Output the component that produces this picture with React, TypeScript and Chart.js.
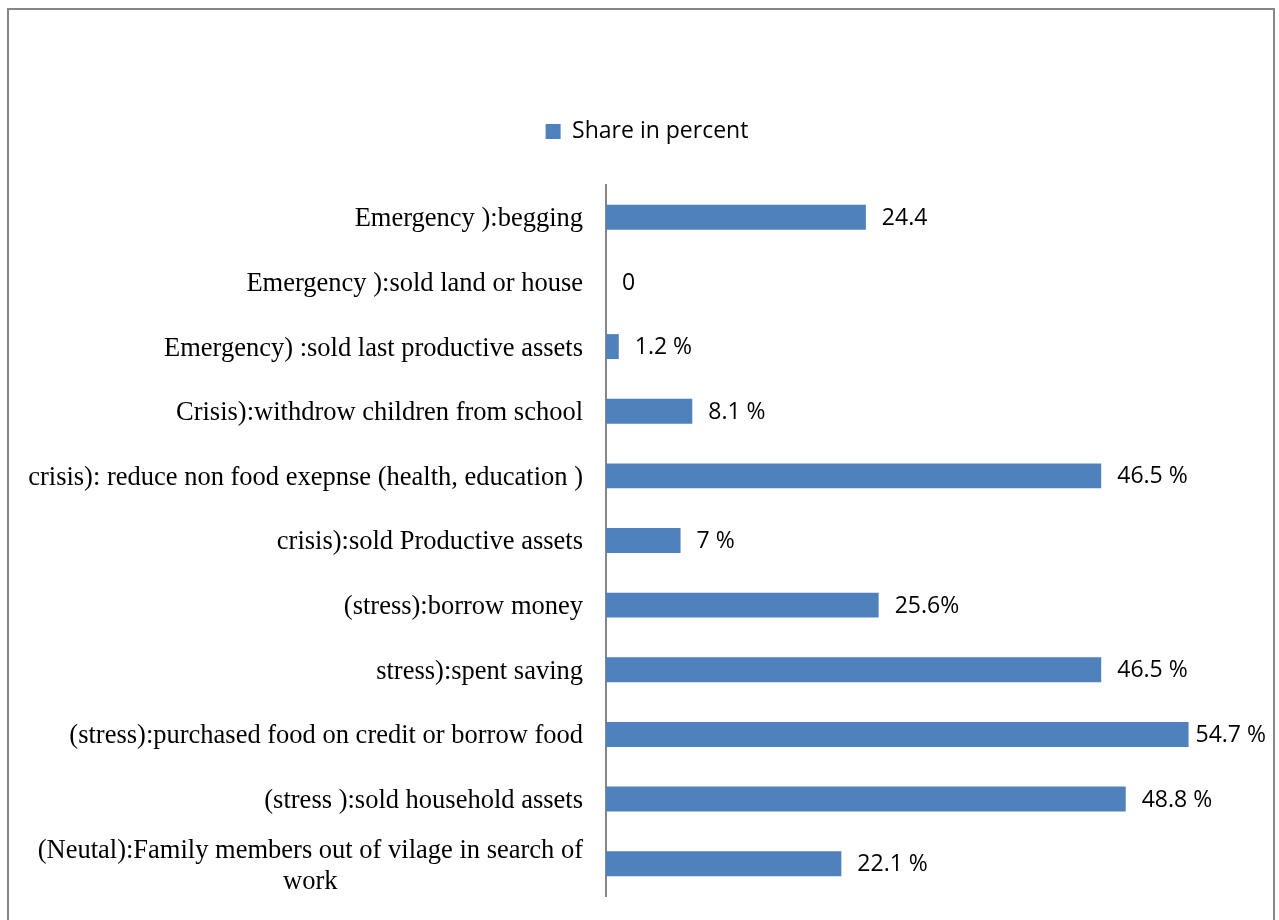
import React, { useEffect, useRef } from 'react';
import { Chart, registerables } from 'chart.js';

Chart.register(...registerables);

const categories: (string | string[])[] = [
  'Emergency ):begging',
  'Emergency ):sold land or house',
  'Emergency) :sold last productive assets',
  'Crisis):withdrow children from school',
  'crisis): reduce non food exepnse (health, education )',
  'crisis):sold Productive assets',
  '(stress):borrow money',
  'stress):spent saving',
  '(stress):purchased food on credit or borrow food',
  '(stress ):sold household assets',
  ['(Neutal):Family members out of vilage in search of', 'work'],
];
const values = [24.4, 0, 1.2, 8.1, 46.5, 7, 25.6, 46.5, 54.7, 48.8, 22.1];
const valueLabels = ['24.4', '0', '1.2 %', '8.1 %', '46.5 %', '7 %', '25.6%', '46.5 %', '54.7 %', '48.8 %', '22.1 %'];
const seriesName = 'Share in percent';

const BAR_COLOR = '#4F81BD';
const AXIS_COLOR = '#868686';
const SERIF = '"Liberation Serif", "Times New Roman", serif';
const SANS = '"Open Sans", Calibri, sans-serif';

const categoryLabelPlugin = {
  id: 'categoryLabels',
  afterDraw(chart: any) {
    const { ctx, scales, chartArea } = chart;
    const y = scales.y;
    ctx.save();
    ctx.font = `26.5px ${SERIF}`;
    ctx.fillStyle = '#000';
    ctx.textBaseline = 'middle';
    const right = chartArea.left - 23;
    categories.forEach((lab, i) => {
      const cy = y.getPixelForValue(i) + 2;
      if (Array.isArray(lab)) {
        const lh = 31;
        const widest = Math.max(...lab.map((l) => ctx.measureText(l).width));
        const cx = right - widest / 2;
        ctx.textAlign = 'center';
        lab.forEach((l, k) => {
          ctx.fillText(l, cx, cy + 1 + (k - (lab.length - 1) / 2) * lh);
        });
      } else {
        ctx.textAlign = 'right';
        ctx.fillText(lab, right, cy);
      }
    });
    ctx.restore();
  },
};

const valueLabelPlugin = {
  id: 'valueLabels',
  afterDatasetsDraw(chart: any) {
    const { ctx } = chart;
    const meta = chart.getDatasetMeta(0);
    ctx.save();
    ctx.font = `23px ${SANS}`;
    ctx.fillStyle = '#000';
    ctx.textBaseline = 'middle';
    ctx.textAlign = 'left';
    const limit = chart.width - 7;
    meta.data.forEach((el: any, i: number) => {
      const t = valueLabels[i];
      const w = ctx.measureText(t).width;
      let x = el.x + 16;
      if (x + w > limit) x = Math.max(el.x + 5, limit - w);
      ctx.fillText(t, x, el.y + 1);
    });
    ctx.restore();
  },
};

const legendSpacePlugin = {
  id: 'legendSpace',
  beforeInit(chart: any) {
    const legend = chart.legend;
    if (legend) {
      const orig = legend.fit;
      legend.fit = function () {
        orig.call(this);
        this.height += 32;
      };
    }
  },
};

export default function App() {
  const ref = useRef<HTMLCanvasElement | null>(null);
  useEffect(() => {
    if (!ref.current) return;
    const chart = new Chart(ref.current, {
      type: 'bar',
      data: {
        labels: categories,
        datasets: [
          {
            label: seriesName,
            data: values,
            backgroundColor: BAR_COLOR,
            borderWidth: 0,
            barPercentage: 0.386,
            categoryPercentage: 1,
          },
        ],
      },
      options: {
        indexAxis: 'y',
        animation: false,
        responsive: false,
        maintainAspectRatio: false,
        layout: { padding: { left: 40, right: 28, top: 100, bottom: 16 } },
        scales: {
          x: {
            min: 0,
            max: 60,
            display: false,
          },
          y: {
            grid: { display: false, drawTicks: false },
            ticks: { display: false },
            border: { display: true, color: AXIS_COLOR, width: 2 },
            afterFit(scale: any) {
              scale.width = 557;
            },
          },
        },
        plugins: {
          legend: {
            position: 'top',
            labels: {
              boxWidth: 15,
              boxHeight: 15,
              padding: 10,
              color: '#000',
              font: { family: SANS, size: 23 },
            },
          },
          tooltip: { enabled: false },
        },
      },
      plugins: [legendSpacePlugin, categoryLabelPlugin, valueLabelPlugin],
    });
    return () => chart.destroy();
  }, []);
  return (
    <div
      style={{
        position: 'fixed',
        left: 7,
        top: 8,
        width: 1264,
        height: 920,
        border: `2px solid ${AXIS_COLOR}`,
        background: '#fff',
      }}
    >
      <canvas ref={ref} width={1264} height={902} style={{ display: 'block' }} />
    </div>
  );
}
